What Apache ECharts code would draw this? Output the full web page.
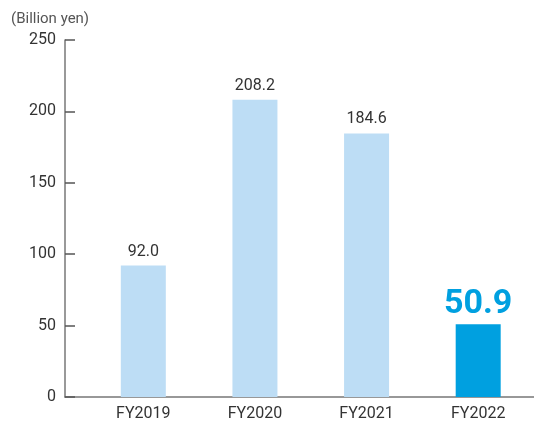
<!DOCTYPE html>
<html><head><meta charset="utf-8">
<script src="https://cdn.jsdelivr.net/npm/echarts@6/dist/echarts.min.js"></script>
<style>html,body{margin:0;padding:0;background:#fff}#c{width:534px;height:427px}</style>
</head><body><div id="c"></div>
<script>
const categories = ['FY2019', 'FY2020', 'FY2021', 'FY2022'];
const values = [92.0, 208.2, 184.6, 50.9];
const highlightIndex = 3;
const yTicks = [0, 50, 100, 150, 200, 250];
const unitLabel = '(Billion yen)';

const FONT = 'Roboto, "Noto Sans", sans-serif';
const chart = echarts.init(document.getElementById('c'), null, {renderer: 'canvas'});
const gridTop = 40, gridBottom = 427 - 397;
chart.setOption({
  animation: false,
  title: {text: unitLabel, left: 6, top: 7, textStyle: {fontFamily: FONT, fontSize: 15, fontWeight: 'normal', color: '#555'}},
  grid: [
    {left: 87.5, width: 448, top: gridTop, bottom: gridBottom},
    {left: 65, right: 0, top: gridTop, bottom: gridBottom}
  ],
  xAxis: [
    {type: 'category', gridIndex: 0, data: categories, axisLine: {show: false}, axisTick: {show: false},
     axisLabel: {fontFamily: FONT, fontSize: 16, color: '#333', margin: 9}},
    {type: 'value', gridIndex: 1, min: 0, max: 1, axisLine: {show: true, lineStyle: {color: '#777', width: 1.5}},
     axisTick: {show: false}, axisLabel: {show: false}, splitLine: {show: false}}
  ],
  yAxis: [
    {type: 'value', gridIndex: 0, min: 0, max: 250, interval: 50, show: false, splitLine: {show: false}},
    {type: 'value', gridIndex: 1, min: yTicks[0], max: yTicks[yTicks.length - 1], interval: 50,
     axisLine: {show: true, lineStyle: {color: '#777', width: 1.5}},
     axisTick: {show: true, inside: true, length: 10, lineStyle: {color: '#555', width: 1.5}},
     axisLabel: {fontFamily: FONT, fontSize: 16, color: '#333', margin: 9},
     splitLine: {show: false}}
  ],
  series: [{
    type: 'bar', xAxisIndex: 0, yAxisIndex: 0, barWidth: 45,
    data: values.map((v, i) => i === highlightIndex ? {
      value: v, itemStyle: {color: '#00A0E0'},
      label: {fontSize: 34, fontWeight: 'bold', color: '#00A0E0', distance: 3}
    } : {value: v, itemStyle: {color: '#BDDDF5'}}),
    label: {show: true, position: 'top', distance: 6, fontFamily: FONT, fontSize: 16, color: '#333',
      formatter: p => p.value.toFixed(1)}
  }]
});
</script></body></html>
